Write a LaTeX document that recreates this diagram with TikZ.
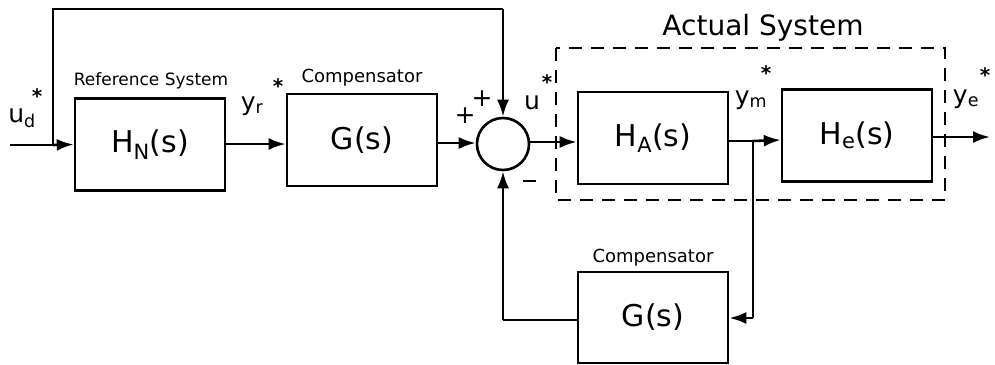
\documentclass[tikz,border=0pt]{standalone}
\usepackage{fontspec}
\setmainfont{DejaVu Sans}
\usetikzlibrary{arrows.meta}
\begin{document}
\begin{tikzpicture}[x=1pt,y=-1pt,
  blk/.style={draw,line width=2.6pt,minimum width=150pt,minimum height=92pt,inner sep=0pt,font=\fontsize{30}{32}\selectfont},
  sig/.style={line width=2.6pt,-{Latex[length=17pt,width=12pt]}},
  ln/.style={line width=2.6pt},
  lbl/.style={font=\fontsize{18}{19}\selectfont},
  big/.style={font=\fontsize{25}{26}\selectfont},
  st/.style={font=\fontsize{20}{20}\selectfont\bfseries}]
\useasboundingbox (0,0) rectangle (995,364);
% blocks
\node[blk] (hn) at (150,144.5) {H\textsubscript{N}(s)};
\node[blk] (g1) at (362,140) {G(s)};
\node[blk] (ha) at (653,138) {H\textsubscript{A}(s)};
\node[blk] (he) at (857,135.5) {H\textsubscript{e}(s)};
\node[blk,minimum height=91pt] (g2) at (653,317.5) {G(s)};
\node[draw,circle,line width=2.6pt,minimum size=52pt,inner sep=0pt] (sum) at (503,144) {};
% dashed box
\draw[line width=2pt,dash pattern=on 13pt off 9pt] (556,48) rectangle (945,200);
% coordinates
\coordinate (in) at (10,145);
\coordinate (j) at (53,145);
\coordinate (tl) at (53,9);
\coordinate (tr) at (503,9);
\coordinate (br) at (753,141);
\coordinate (bd) at (753,318);
\coordinate (out) at (990,137);
% connectors
\draw[ln] (in) -- (j);
\draw[sig] (j) -- (hn.west);
\draw[ln] (j) -- (tl) -- (tr);
\draw[sig] (tr) -- (sum.north);
\draw[sig] (hn.east |- 0,144) -- (g1.west |- 0,144);
\draw[sig] (g1.east |- 0,143) -- (sum.west |- 0,143);
\draw[sig] (sum.east |- 0,142) -- (ha.west |- 0,142);
\draw[ln] (ha.east |- 0,141) -- (br);
\draw[sig] (br) -- (he.west |- 0,140);
\draw[ln] (br) -- (bd);
\draw[sig] (bd) -- (g2.east |- bd);
\draw[ln] (g2.west |- 0,320) -- (503,320);
\draw[sig] (503,320) -- (sum.south);
\draw[sig] (he.east |- out) -- (out);
% labels
\node[lbl,font=\fontsize{17}{18}\selectfont] (lref) at (151,81) {Reference System};
\node[lbl] (lc1) at (362,78) {Compensator};
\node[lbl] (lc2) at (653,258) {Compensator};
\node[font=\fontsize{28}{30}\selectfont] (lact) at (763,28) {Actual System};
\node[big] (lud) at (22,118) {u\textsubscript{d}};
\node[st] (ludst) at (37,96) {*};
\node[big] (lyr) at (252,106) {y\textsubscript{r}};
\node[st] (lyrst) at (278,86) {*};
\node[big] (lu) at (532,103) {u};
\node[st] (lust) at (547,82) {*};
\node[big] (lym) at (751,100) {y\textsubscript{m}};
\node[st] (lymst) at (766,73) {*};
\node[big] (lye) at (966,99) {y\textsubscript{e}};
\node[st] (lyest) at (985,75) {*};
\node[big] (lp1) at (465,116) {+};
\node[big] (lp2) at (482,99) {+};
\node[inner sep=0pt] (lm) at (529,181) {\rule{13pt}{2.8pt}};
\end{tikzpicture}
\end{document}
